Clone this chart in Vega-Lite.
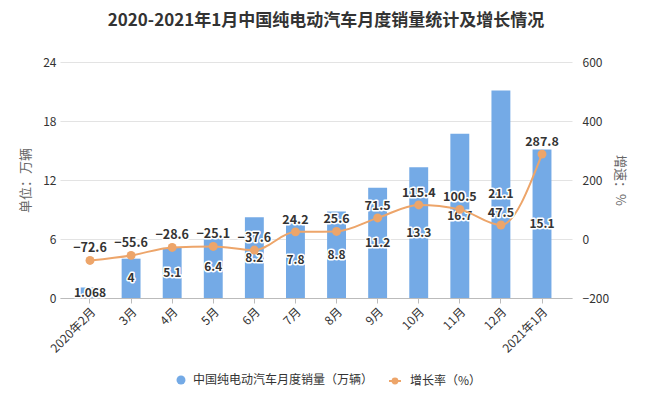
{
  "$schema": "https://vega.github.io/schema/vega-lite/v6.json",
  "width": 512,
  "height": 236,
  "autosize": {"type": "none"},
  "padding": {"left": 60, "top": 62, "right": 88, "bottom": 98},
  "background": "white",
  "config": {
    "font": "Noto Sans CJK SC",
    "view": {"stroke": null},
    "axis": {"labelFont": "Noto Sans CJK SC", "titleFont": "Noto Sans CJK SC", "labelColor": "#333333", "labelFontSize": 12}
  },
  "title": {"text": "2020-2021年1月中国纯电动汽车月度销量统计及增长情况", "fontSize": 17, "fontWeight": "bold", "color": "#333333", "offset": 26, "dx": 10, "anchor": "middle", "font": "Noto Sans CJK SC"},
  "data": {"values": [
    {"month": "2020年2月", "sales": 1.068, "growth": -72.6},
    {"month": "3月", "sales": 4, "growth": -55.6},
    {"month": "4月", "sales": 5.1, "growth": -28.6},
    {"month": "5月", "sales": 6.4, "growth": -25.1},
    {"month": "6月", "sales": 8.2, "growth": -37.6},
    {"month": "7月", "sales": 7.8, "growth": 24.2},
    {"month": "8月", "sales": 8.8, "growth": 25.6},
    {"month": "9月", "sales": 11.2, "growth": 71.5},
    {"month": "10月", "sales": 13.3, "growth": 115.4},
    {"month": "11月", "sales": 16.7, "growth": 100.5},
    {"month": "12月", "sales": 21.1, "growth": 47.5},
    {"month": "2021年1月", "sales": 15.1, "growth": 287.8}
  ]},
  "encoding": {
    "x": {"field": "month", "type": "ordinal", "sort": null,
      "scale": {"paddingInner": 0.54, "paddingOuter": 0.5},
      "axis": {"title": null, "labelAngle": -45, "domainColor": "#bbbbbb", "tickColor": "#bbbbbb", "tickSize": 5, "labelPadding": 3, "grid": false}}
  },
  "layer": [
    {
      "transform": [{"calculate": "datum.sales / 2", "as": "mid"}],
      "layer": [
        {
          "mark": {"type": "bar", "color": "#74aae6"},
          "encoding": {
            "y": {"field": "sales", "type": "quantitative", "scale": {"domain": [0, 24], "nice": false},
              "axis": {"title": "单位：万辆", "titleColor": "#666666", "titleFontSize": 13, "titleFontWeight": "normal", "titlePadding": 10, "values": [0, 6, 12, 18, 24], "domain": false, "ticks": false, "labelPadding": 4, "gridColor": "#e3e3e3", "grid": true}},
            "fill": {"datum": "中国纯电动汽车月度销量（万辆）", "type": "nominal", "scale": {"range": ["#74aae6"]},
              "legend": {"title": null, "orient": "none", "legendX": 115, "legendY": 312, "symbolType": "circle", "symbolSize": 80, "labelFontSize": 12, "labelColor": "#333333", "labelOffset": 6, "labelLimit": 400, "labelFont": "Noto Sans CJK SC"}}
          }
        },
        {
          "mark": {"type": "text", "fontSize": 12, "fontWeight": "bold", "stroke": "white", "strokeWidth": 3, "strokeJoin": "round", "baseline": "middle", "fill": "white"},
          "encoding": {
            "y": {"field": "mid", "type": "quantitative", "title": "单位：万辆"},
            "text": {"field": "sales", "type": "nominal"}
          }
        },
        {
          "mark": {"type": "text", "fontSize": 12, "fontWeight": "bold", "color": "#333333", "baseline": "middle"},
          "encoding": {
            "y": {"field": "mid", "type": "quantitative", "title": "单位：万辆"},
            "text": {"field": "sales", "type": "nominal"}
          }
        }
      ]
    },
    {
      "layer": [
        {
          "mark": {"type": "line", "interpolate": "monotone", "strokeWidth": 2},
          "encoding": {
            "y": {"field": "growth", "type": "quantitative", "scale": {"domain": [-200, 600], "nice": false},
              "axis": {"orient": "right", "title": "增速：%", "titleColor": "#666666", "titleFontSize": 13, "titleFontWeight": "normal", "titlePadding": 4, "values": [-200, 0, 200, 400, 600], "domain": false, "ticks": false, "grid": false, "labelPadding": 10}},
            "stroke": {"datum": "增长率（%）", "type": "nominal", "scale": {"range": ["#eda56a"]},
              "legend": {"title": null, "orient": "none", "legendX": 328, "legendY": 312, "symbolType": "M-1,0L1,0M-0.4,0A0.4,0.4 0 1,0 0.4,0A0.4,0.4 0 1,0 -0.4,0", "symbolSize": 144, "symbolStrokeWidth": 2, "symbolFillColor": "#eda56a", "labelFontSize": 12, "labelColor": "#333333", "labelOffset": 8, "labelLimit": 300, "labelFont": "Noto Sans CJK SC"}}
          }
        },
        {
          "mark": {"type": "point", "filled": true, "size": 80, "color": "#eda56a", "opacity": 1},
          "encoding": {"y": {"field": "growth", "type": "quantitative"}}
        },
        {
          "mark": {"type": "text", "fontSize": 12.5, "fontWeight": "bold", "stroke": "white", "strokeWidth": 3, "strokeJoin": "round", "fill": "white", "baseline": "bottom", "dy": -5},
          "encoding": {"y": {"field": "growth", "type": "quantitative"}, "text": {"field": "growth", "type": "quantitative", "format": ".1f"}}
        },
        {
          "mark": {"type": "text", "fontSize": 12.5, "fontWeight": "bold", "color": "#333333", "baseline": "bottom", "dy": -5},
          "encoding": {"y": {"field": "growth", "type": "quantitative"}, "text": {"field": "growth", "type": "quantitative", "format": ".1f"}}
        }
      ]
    }
  ],
  "resolve": {"scale": {"y": "independent"}}
}
